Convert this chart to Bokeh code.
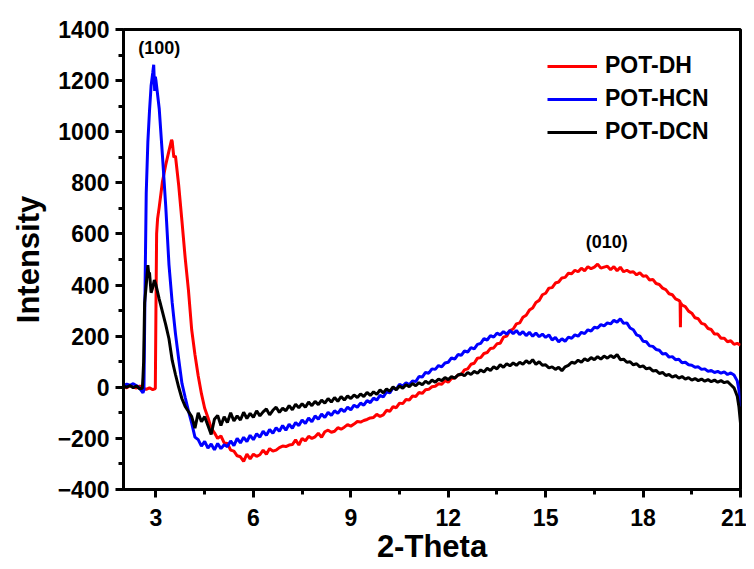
import numpy as np
from bokeh.plotting import figure
from bokeh.models import FixedTicker, Range1d, Legend, LegendItem, Label
from bokeh.embed import file_html
from bokeh.resources import INLINE

# ---------------- data ----------------
theta_grid = np.round(np.arange(2.0, 21.05, 0.1), 2)

dh_intensity = [
    4, -2, 6, 1, -3, 5, -4, -8, -2, -9,
    320, 705, 805, 870, 925, 962, 905, 790, 650, 505,
    380, 225, 128, 45, -25, -82, -118, -160, -178, -200,
    -190, -218, -220, -246, -250, -268, -272, -290, -262, -280,
    -262, -270, -264, -246, -262, -240, -250, -246, -236, -230,
    -232, -226, -224, -206, -226, -200, -210, -192, -200, -194,
    -180, -196, -174, -168, -176, -172, -158, -164, -156, -146,
    -152, -144, -134, -136, -130, -126, -120, -118, -106, -114,
    -108, -90, -94, -76, -80, -62, -64, -48, -50, -34,
    -36, -20, -24, -10, -8, 2, 4, 14, 12, 26,
    20, 34, 36, 48, 50, 68, 72, 90, 94, 114,
    116, 132, 136, 152, 154, 170, 172, 196, 200, 222,
    228, 248, 252, 274, 282, 302, 310, 332, 340, 362,
    368, 388, 390, 408, 412, 428, 430, 446, 444, 458,
    452, 466, 456, 472, 464, 470, 482, 466, 470, 474,
    460, 472, 456, 470, 452, 458, 450, 452, 440, 448,
    434, 436, 420, 422, 406, 402, 388, 382, 366, 362,
    346, 340, 322, 316, 298, 290, 272, 268, 250, 246,
    230, 226, 208, 208, 192, 192, 178, 182, 168, 172,
    165,
]
dh_extra_theta = [2.98, 3.02, 3.05, 3.48, 3.55, 19.14, 19.15, 19.16]
dh_extra_intensity = [-5, 600, 660, 968, 900, 335, 235, 330]

hcn_intensity = [
    6, 12, 8, 14, 6, -4, -22, 760, 1080, 1230,
    1200, 1090, 905, 710, 480, 330, 210, 110, 15, -40,
    -92, -140, -195, -205, -230, -212, -238, -222, -245, -220,
    -240, -225, -232, -210, -228, -200, -218, -196, -212, -188,
    -205, -182, -195, -172, -188, -165, -180, -158, -172, -150,
    -168, -145, -160, -138, -150, -128, -142, -120, -135, -112,
    -125, -105, -118, -98, -110, -92, -102, -85, -95, -78,
    -88, -70, -78, -62, -70, -52, -60, -42, -50, -32,
    -38, -18, -22, -2, -8, 12, 5, 18, 10, 25,
    22, 42, 40, 58, 55, 72, 70, 85, 80, 95,
    98, 115, 110, 128, 125, 142, 138, 155, 150, 168,
    172, 190, 185, 202, 196, 212, 205, 218, 208, 222,
    210, 222, 206, 218, 202, 215, 200, 212, 198, 208,
    195, 205, 185, 195, 178, 190, 180, 196, 192, 205,
    200, 215, 210, 225, 220, 235, 232, 245, 240, 252,
    248, 262, 255, 268, 250, 252, 232, 225, 205, 200,
    180, 178, 162, 160, 148, 145, 130, 132, 118, 120,
    108, 110, 96, 98, 88, 86, 78, 80, 70, 72,
    62, 66, 58, 62, 55, 60, 50, 56, 48, 25,
    -75,
]
hcn_extra_theta = [2.63, 2.66, 2.75, 2.85, 2.93, 2.96, 2.98, 20.95]
hcn_extra_intensity = [-10, 350, 960, 1180, 1262, 1160, 1215, -10]

dcn_intensity = [
    4, 0, 7, -2, 5, -6, 40, 400, 450, 390,
    400, 345, 295, 245, 190, 105, 50, 0, -45, -75,
    -95, -115, -160, -100, -135, -115, -150, -185, -125, -110,
    -150, -115, -138, -100, -132, -112, -128, -98, -122, -102,
    -118, -92, -112, -96, -85, -108, -90, -78, -98, -82,
    -92, -72, -88, -66, -80, -64, -78, -58, -72, -55,
    -68, -50, -62, -44, -58, -40, -55, -36, -50, -34,
    -44, -30, -40, -26, -36, -20, -32, -18, -28, -10,
    -22, -6, -16, 2, -10, 5, -4, 10, 2, 15,
    6, 18, 10, 24, 15, 28, 20, 32, 26, 38,
    30, 42, 36, 48, 52, 45, 58, 50, 62, 55,
    68, 60, 74, 66, 80, 72, 88, 78, 92, 84,
    95, 86, 98, 90, 104, 94, 108, 90, 100, 86,
    88, 76, 80, 70, 78, 65, 80, 86, 98, 94,
    106, 98, 112, 104, 116, 108, 120, 110, 122, 114,
    124, 116, 128, 108, 110, 98, 100, 88, 92, 80,
    84, 72, 76, 64, 66, 54, 58, 46, 50, 40,
    46, 36, 42, 32, 38, 28, 34, 26, 32, 24,
    30, 22, 28, 20, 26, 18, 22, 10, -2, -35,
    -140,
]
dcn_extra_theta = [2.58, 2.62, 2.65, 2.75, 2.78, 2.85, 2.95, 20.95]
dcn_extra_intensity = [-4, 100, 330, 478, 440, 370, 420, -75]

series_names = ["POT-DH", "POT-HCN", "POT-DCN"]
series_colors = ["#ff0000", "#0000ff", "#000000"]

x_ticks = [3, 6, 9, 12, 15, 18, 21]
x_minor = [4.5, 7.5, 10.5, 13.5, 16.5, 19.5]
y_ticks = [-400, -200, 0, 200, 400, 600, 800, 1000, 1200, 1400]
y_minor = [-300, -100, 100, 300, 500, 700, 900, 1100, 1300]

peak_labels = ["(100)", "(010)"]
peak_theta = [3.1, 16.88]
peak_intensity = [1329, 570]


def merge(grid, vals, ex_x, ex_y):
    xs = np.concatenate([grid, np.array(ex_x, float)])
    ys = np.concatenate([np.array(vals, float), np.array(ex_y, float)])
    order = np.argsort(xs, kind="stable")
    return xs[order], ys[order]


series = [
    merge(theta_grid, dh_intensity, dh_extra_theta, dh_extra_intensity),
    merge(theta_grid, hcn_intensity, hcn_extra_theta, hcn_extra_intensity),
    merge(theta_grid, dcn_intensity, dcn_extra_theta, dcn_extra_intensity),
]

FONT = "Liberation Sans"

p = figure(width=746, height=569, output_backend="svg", toolbar_location=None,
           x_range=Range1d(2, 21), y_range=Range1d(-400, 1400),
           min_border_left=123, min_border_right=6, min_border_top=29,
           min_border_bottom=80)
p.grid.visible = False
p.outline_line_color = "black"
p.outline_line_width = 3
p.background_fill_color = "white"
p.border_fill_color = "white"

items = []
for (xs, ys), name, col in zip(series, series_names, series_colors):
    r = p.line(xs, ys, line_color=col, line_width=3)
    items.append(LegendItem(label=name, renderers=[r]))

legend = Legend(items=items, location=(424, 344), border_line_color=None,
                background_fill_alpha=0, padding=0, margin=0,
                glyph_width=50, glyph_height=26, label_height=26,
                label_standoff=8, spacing=6,
                label_text_font=FONT, label_text_font_style="bold",
                label_text_font_size="23px", label_text_color="black")
p.add_layout(legend)

for ax in (p.xaxis[0], p.yaxis[0]):
    ax.axis_line_width = 3
    ax.axis_line_color = "black"
    ax.major_tick_line_width = 3
    ax.minor_tick_line_width = 3
    ax.major_tick_out = 8
    ax.major_tick_in = 0
    ax.minor_tick_out = 5
    ax.minor_tick_in = 0
    ax.major_label_text_font = FONT
    ax.major_label_text_font_style = "bold"
    ax.major_label_text_font_size = "23px"
    ax.major_label_text_color = "black"
    ax.axis_label_text_font = FONT
    ax.axis_label_text_font_style = "bold"
    ax.axis_label_text_font_size = "31px"
    ax.axis_label_text_color = "black"

p.xaxis.ticker = FixedTicker(ticks=x_ticks, minor_ticks=x_minor)
p.yaxis.ticker = FixedTicker(ticks=y_ticks, minor_ticks=y_minor)
p.xaxis.axis_label = "2-Theta"
p.yaxis.axis_label = "Intensity"
p.xaxis.major_label_standoff = 11
p.yaxis.major_label_standoff = 6
p.xaxis.axis_label_standoff = 0
p.yaxis.axis_label_standoff = 9

for txt, tx, ty in zip(peak_labels, peak_theta, peak_intensity):
    p.add_layout(Label(x=tx, y=ty, text=txt, text_align="center",
                       text_baseline="middle", text_font=FONT,
                       text_font_style="bold", text_font_size="18px",
                       text_color="black"))

open("out.html", "w").write(file_html(p, INLINE))
